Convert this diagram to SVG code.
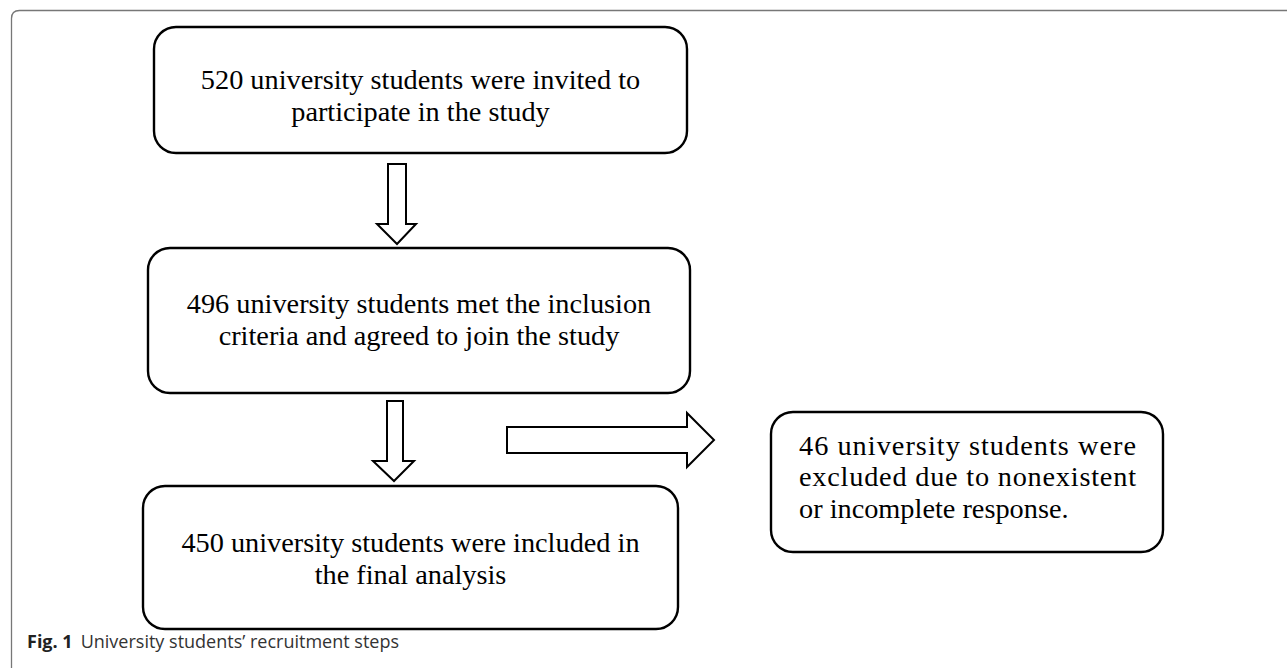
<svg xmlns="http://www.w3.org/2000/svg" width="1287" height="668" viewBox="0 0 1287 668">
<style>
.box{fill:#fff;stroke:#000;stroke-width:2.4}
.arr{fill:#fff;stroke:#000;stroke-width:2;stroke-linejoin:miter}
.t{font-family:"Liberation Serif","Times New Roman",serif;font-size:28.3px;fill:#000}
.cap{font-family:"Open Sans","Noto Sans",sans-serif;font-size:18px;fill:#333}
</style>
<rect width="1287" height="668" fill="#fff"/>
<path d="M11.5 668 V18.5 Q11.5 10.5 19.5 10.5 H1287" fill="none" stroke="#777" stroke-width="1.3"/>
<g id="connectors">
<path class="arr" d="M388 164 H406 V224 H416 L397 244 L377 224 H388 Z"/>
<path class="arr" d="M387 401 H403 V461 H414 L394 481 L373 461 H387 Z"/>
<path class="arr" d="M507 427 H687 V413 L714 440 L687 467 V453 H507 Z"/>
</g>
<g id="n1">
<rect class="box" x="154" y="27" width="533" height="126" rx="22"/>
<text class="t" x="420.5" y="89" text-anchor="middle">520 university students were invited to</text>
<text class="t" x="420.5" y="121" text-anchor="middle">participate in the study</text>
</g>
<g id="n2">
<rect class="box" x="148" y="248" width="542" height="145" rx="22"/>
<text class="t" x="419" y="313" text-anchor="middle">496 university students met the inclusion</text>
<text class="t" x="419" y="345" text-anchor="middle">criteria and agreed to join the study</text>
</g>
<g id="n3">
<rect class="box" x="143" y="486" width="535" height="143" rx="22"/>
<text class="t" x="410.5" y="552" text-anchor="middle">450 university students were included in</text>
<text class="t" x="410.5" y="584" text-anchor="middle">the final analysis</text>
</g>
<g id="n4">
<rect class="box" x="771" y="412" width="392" height="140" rx="22"/>
<text class="t" x="799" y="455" textLength="337" lengthAdjust="spacing">46 university students were</text>
<text class="t" x="799" y="486" textLength="337" lengthAdjust="spacing">excluded due to nonexistent</text>
<text class="t" x="799" y="518">or incomplete response.</text>
</g>
<g id="caption">
<text class="cap" x="27" y="648"><tspan font-weight="bold" fill="#222">Fig. 1</tspan><tspan dx="8">University students’ recruitment steps</tspan></text>
</g>
</svg>
